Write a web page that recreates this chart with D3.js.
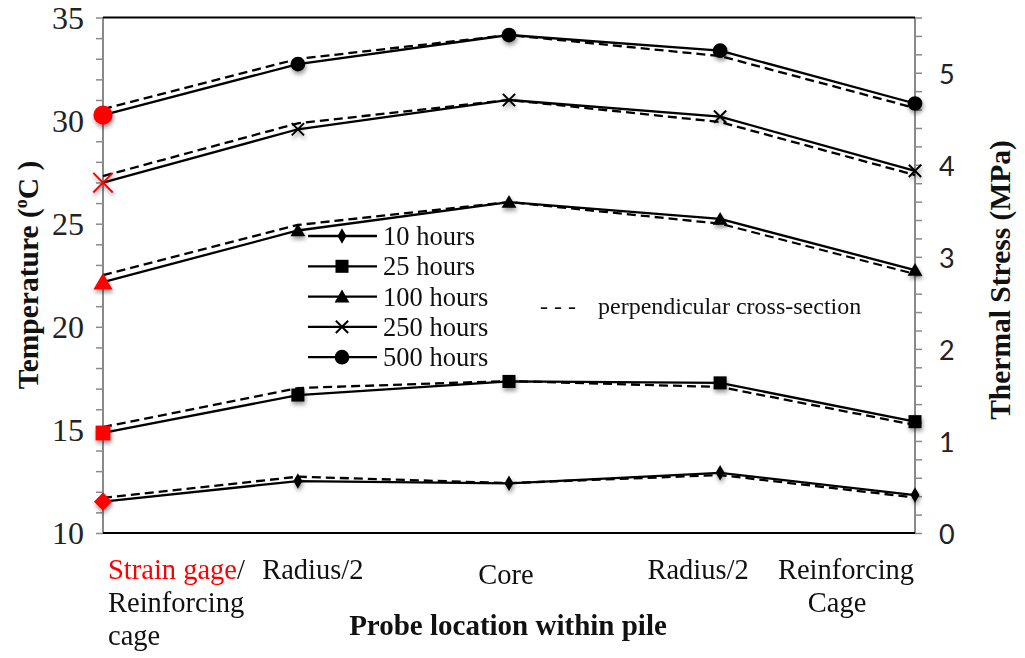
<!DOCTYPE html>
<html><head><meta charset="utf-8">
<script src="https://cdn.jsdelivr.net/npm/d3@7"></script>
<style>body{margin:0;background:#fff}svg{display:block}</style>
</head><body>
<svg id="c" width="1025" height="658"></svg>
<script>
// ---------- data ----------
const categories = [["Strain gage/","Reinforcing","cage"],["Radius/2"],["Core"],["Radius/2"],["Reinforcing","Cage"]];
const xPositions = [-1, -0.52, 0, 0.52, 1];
const seriesNames = ["10 hours","25 hours","100 hours","250 hours","500 hours"];
const markerTypes = ["diamond","square","triangle","times","circle"];
const solid10  = [11.52, 12.52, 12.41, 12.92, 11.84];
const solid25  = [14.85, 16.69, 17.35, 17.28, 15.40];
const solid100 = [22.17, 24.67, 26.05, 25.23, 22.75];
const solid250 = [26.99, 29.58, 31.00, 30.19, 27.56];
const solid500 = [30.27, 32.74, 34.15, 33.39, 30.83];
const dash10   = [11.70, 12.73, 12.42, 12.81, 11.72];
const dash25   = [15.14, 17.03, 17.37, 17.08, 15.24];
const dash100  = [22.51, 24.94, 26.05, 25.00, 22.56];
const dash250  = [27.31, 29.87, 31.00, 29.93, 27.36];
const dash500  = [30.56, 32.99, 34.15, 33.13, 30.61];
const leftTicks = [10, 15, 20, 25, 30, 35];
const rightTicks = [0, 1, 2, 3, 4, 5];
const leftDomain = [10, 35];
const rightDomain = [0, 5.6];
const solidSeries = [solid10, solid25, solid100, solid250, solid500];
const dashSeries = [dash10, dash25, dash100, dash250, dash500];

// ---------- layout ----------
const L = 103, R = 915, T = 17.5, B = 533;
const serif = "'Liberation Serif','Times New Roman',serif";
const sans = "Lato,'Open Sans',sans-serif";
const svg = d3.select("#c");
const x = d3.scaleLinear().domain([-1, 1]).range([L, R]);
const yL = d3.scaleLinear().domain(leftDomain).range([B, T]);
const yR = d3.scaleLinear().domain(rightDomain).range([B, T]);

const defs = svg.append("defs");
const f = defs.append("filter").attr("id","sh").attr("x","-50%").attr("y","-50%").attr("width","200%").attr("height","200%");
f.append("feDropShadow").attr("dx",1).attr("dy",3).attr("stdDeviation",2.2).attr("flood-color","#000").attr("flood-opacity",0.4);

// axes
const gL = svg.append("g").attr("transform",`translate(${L},0)`)
  .call(d3.axisLeft(yL).tickValues(d3.range(10, 35.01, 1)).tickSize(7).tickFormat(""));
const gR = svg.append("g").attr("transform",`translate(${R},0)`)
  .call(d3.axisRight(yR).tickValues(d3.range(0, 5.61, 0.2)).tickSize(7).tickFormat(""));
[gL, gR].forEach(g => {
  g.select(".domain").attr("stroke","#8a8a8a").attr("stroke-width",2).attr("d", `M0,${T}V${B+1}`);
  g.selectAll(".tick line").attr("stroke","#8a8a8a").attr("stroke-width",1.5);
});
// tick labels
svg.append("g").selectAll("text").data(leftTicks).join("text")
  .attr("x", L - 19).attr("y", d => yL(d) + 11)
  .attr("text-anchor","end").attr("font-family",serif).attr("font-size",32).attr("fill","#222")
  .text(d => d);
svg.append("g").selectAll("text").data(rightTicks).join("text")
  .attr("x", R + 24).attr("y", d => yR(d) + 11)
  .attr("text-anchor","start").attr("font-family",sans).attr("font-size",27).attr("fill","#222")
  .text(d => d);
// frame lines top/bottom
svg.append("line").attr("x1",L).attr("x2",R).attr("y1",T).attr("y2",T).attr("stroke","#000").attr("stroke-width",2);
svg.append("line").attr("x1",L).attr("x2",R).attr("y1",B).attr("y2",B).attr("stroke","#000").attr("stroke-width",2);

// lines
const line = d3.line().x((d,i) => x(xPositions[i])).y(d => yL(d));
svg.append("g").selectAll("path").data(dashSeries).join("path")
  .attr("d", line).attr("fill","none").attr("stroke","#000").attr("stroke-width",2.3).attr("stroke-dasharray","9,5");
svg.append("g").selectAll("path").data(solidSeries).join("path")
  .attr("d", line).attr("fill","none").attr("stroke","#000").attr("stroke-width",2.3);

// markers
function markerPath(type, big) {
  const sym = {diamond: big ? d3.symbolSquare : d3.symbolDiamond, square: d3.symbolSquare,
    triangle: d3.symbolTriangle, times: d3.symbolTimes, circle: d3.symbolCircle}[type];
  const size = big ? {diamond:165, square:220, triangle:160, times:250, circle:290}[type]
                   : {diamond:70, square:170, triangle:95, times:100, circle:170}[type];
  return d3.symbol().type(sym).size(size)();
}
function drawMarker(g, type, cx, cy, color, big) {
  const p = g.append("path").attr("d", markerPath(type, big));
  let tr = `translate(${cx},${cy})`;
  if (type === "diamond" && big) tr += " rotate(45)";
  if (type === "triangle") tr += ` translate(0,${big ? 2 : 1.5})`;
  p.attr("transform", tr);
  if (type === "times") p.attr("fill","none").attr("stroke",color).attr("stroke-width",2);
  else p.attr("fill",color);
  return p;
}
const mg = svg.append("g").attr("filter","url(#sh)");
solidSeries.forEach((s, si) => {
  s.forEach((v, i) => {
    drawMarker(mg, markerTypes[si], x(xPositions[i]), yL(v), i === 0 ? "#ff0000" : "#000", i === 0);
  });
});

// legend
const legY0 = 236, legDY = 30.3;
const lg = svg.append("g");
seriesNames.forEach((name, i) => {
  const y = legY0 + i * legDY;
  lg.append("line").attr("x1",308).attr("x2",377).attr("y1",y).attr("y2",y).attr("stroke","#000").attr("stroke-width",2.3);
  drawMarker(lg, markerTypes[i], 342, y, "#000", false);
  lg.append("text").attr("x",383).attr("y",y + 9).attr("font-family",serif).attr("font-size",26.5).attr("fill","#111").text(name);
});
svg.append("text").attr("x",540).attr("y",314).attr("font-family",serif).attr("font-size",24).attr("fill","#111").attr("xml:space","preserve").text("- - -");
svg.append("text").attr("x",598).attr("y",314).attr("font-family",serif).attr("font-size",24).attr("fill","#111").text("perpendicular cross-section");

// category labels
const labelLayout = [
  {anchor:"start", dx:[5,5,5], y:[579,612,645]},
  {anchor:"middle", dx:[15], y:[579]},
  {anchor:"middle", dx:[-3], y:[584]},
  {anchor:"middle", dx:[-22], y:[579]},
  {anchor:"middle", dx:[-69,-78], y:[579,612]}
];
categories.forEach((lines, ci) => {
  const lay = labelLayout[ci];
  lines.forEach((txt, li) => {
    const t = svg.append("text").attr("x", x(xPositions[ci]) + lay.dx[li]).attr("y", lay.y[li])
      .attr("text-anchor", lay.anchor).attr("font-family",serif).attr("font-size",28.5).attr("fill","#111");
    if (txt === "Strain gage/") {
      t.append("tspan").attr("fill","#ff0000").text("Strain gage");
      t.append("tspan").text("/");
    } else t.text(txt);
  });
});

// axis titles
svg.append("text").attr("x", 508).attr("y", 635).attr("text-anchor","middle")
  .attr("font-family",serif).attr("font-weight","bold").attr("font-size",29).attr("fill","#111")
  .text("Probe location within pile");
const lt = svg.append("text").attr("transform","translate(38,275) rotate(-90)").attr("text-anchor","middle")
  .attr("font-family",serif).attr("font-weight","bold").attr("font-size",29.5).attr("fill","#111");
lt.append("tspan").text("Temperature (");
lt.append("tspan").attr("font-size",18).attr("dy",-11).text("o");
lt.append("tspan").attr("dy",11).text("C )");
svg.append("text").attr("transform","translate(1010,280) rotate(-90)").attr("text-anchor","middle")
  .attr("font-family",serif).attr("font-weight","bold").attr("font-size",29.5).attr("fill","#111")
  .text("Thermal Stress (MPa)");
</script>
</body></html>
